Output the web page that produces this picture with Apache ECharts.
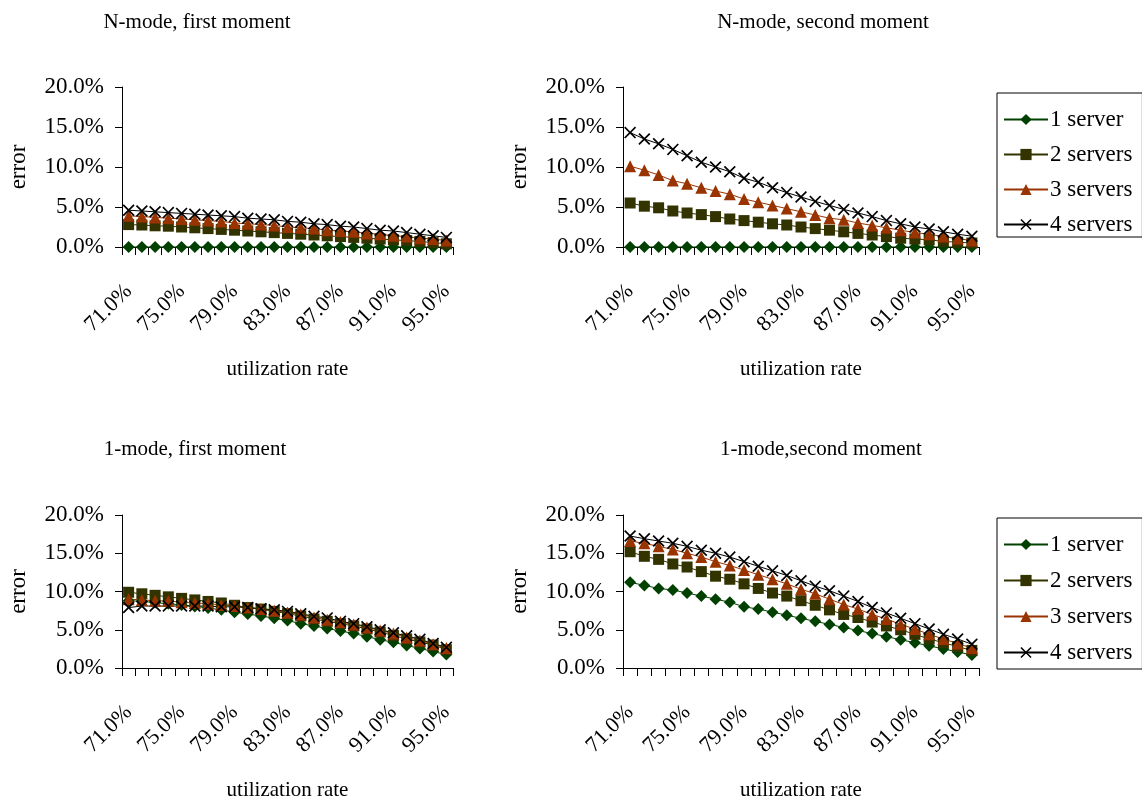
<!DOCTYPE html>
<html>
<head>
<meta charset="utf-8">
<script src="https://cdn.jsdelivr.net/npm/echarts@6/dist/echarts.min.js"></script>
<style>
html,body{margin:0;padding:0;background:#fff;}
#chart{width:1142px;height:802px;}
</style>
</head>
<body>
<div id="chart"></div>
<script>
// ---------- DATA ----------
const categories = ['71.0%','72.0%','73.0%','74.0%','75.0%','76.0%','77.0%','78.0%','79.0%','80.0%','81.0%','82.0%','83.0%','84.0%','85.0%','86.0%','87.0%','88.0%','89.0%','90.0%','91.0%','92.0%','93.0%','94.0%','95.0%'];
const seriesNames = ['1 server','2 servers','3 servers','4 servers'];
const yTicks = [0, 5, 10, 15, 20];
const panelTitles = ['N-mode, first moment','N-mode, second moment','1-mode, first moment','1-mode,second moment'];

// N-mode, first moment (error, %)
const nFirst1 = [0,0,0,0,0,0,0,0,0,0,0,0,0,0,0,0,0,0,0,0,0,0,0,0,0];
const nFirst2 = [2.8,2.75,2.65,2.6,2.5,2.4,2.3,2.2,2.1,2.0,1.9,1.8,1.7,1.6,1.5,1.4,1.3,1.2,1.1,1.0,0.9,0.8,0.7,0.55,0.4];
const nFirst3 = [3.9,3.8,3.7,3.6,3.5,3.4,3.3,3.2,3.0,2.9,2.8,2.7,2.5,2.4,2.3,2.1,2.0,1.9,1.7,1.6,1.4,1.3,1.1,1.0,0.8];
const nFirst4 = [4.6,4.5,4.4,4.3,4.2,4.1,4.0,3.9,3.8,3.6,3.5,3.4,3.2,3.1,2.9,2.8,2.6,2.5,2.3,2.1,2.0,1.8,1.6,1.4,1.2];

// N-mode, second moment
const nSecond1 = [0,0,0,0,0,0,0,0,0,0,0,0,0,0,0,0,0,0,0,0,0,0,0,0,0];
const nSecond2 = [5.5,5.1,4.9,4.5,4.25,4.05,3.8,3.5,3.3,3.1,2.9,2.75,2.5,2.3,2.1,1.9,1.7,1.5,1.3,1.1,1.0,0.9,0.7,0.6,0.5];
const nSecond3 = [10.1,9.6,9.0,8.3,7.9,7.4,7.0,6.6,6.0,5.6,5.2,4.8,4.4,4.0,3.6,3.4,3.0,2.7,2.4,2.1,1.8,1.6,1.3,1.05,0.8];
const nSecond4 = [14.3,13.5,12.9,12.2,11.4,10.6,10.0,9.4,8.6,8.1,7.4,6.8,6.25,5.7,5.2,4.7,4.25,3.8,3.3,2.9,2.5,2.25,1.9,1.6,1.35];

// 1-mode, first moment
const oFirst1 = [8.8,8.7,8.55,8.4,8.25,8.05,7.85,7.6,7.3,7.05,6.8,6.5,6.2,5.8,5.5,5.15,4.85,4.5,4.1,3.7,3.35,2.95,2.55,2.15,1.75];
const oFirst2 = [9.9,9.7,9.5,9.3,9.1,8.9,8.7,8.5,8.2,7.9,7.7,7.4,7.1,6.8,6.4,6.1,5.8,5.5,5.1,4.7,4.25,3.8,3.4,3.0,2.4];
const oFirst3 = [9.0,8.9,8.8,8.75,8.6,8.5,8.4,8.25,8.1,7.9,7.7,7.5,7.25,7.0,6.6,6.3,6.0,5.7,5.3,4.9,4.5,4.0,3.6,3.1,2.6];
const oFirst4 = [7.9,8.1,8.1,8.1,8.1,8.1,8.1,8.0,8.0,7.9,7.75,7.6,7.4,7.1,6.75,6.55,6.1,5.8,5.4,5.0,4.6,4.2,3.75,3.2,2.7];

// 1-mode, second moment
const oSecond1 = [11.2,10.8,10.4,10.2,9.8,9.4,9.0,8.6,8.0,7.7,7.3,6.9,6.5,6.1,5.7,5.3,4.9,4.5,4.1,3.7,3.3,2.9,2.5,2.1,1.7];
const oSecond2 = [15.2,14.6,14.2,13.6,13.2,12.6,12.0,11.6,11.0,10.4,9.8,9.4,8.8,8.2,7.6,7.0,6.6,6.0,5.5,5.0,4.4,3.8,3.3,2.8,2.3];
const oSecond3 = [16.6,16.3,15.9,15.5,15.0,14.5,13.9,13.4,12.8,12.2,11.6,11.0,10.3,9.7,9.0,8.3,7.7,7.0,6.4,5.7,5.1,4.4,3.8,3.2,2.6];
const oSecond4 = [17.25,16.9,16.6,16.3,15.9,15.4,15.0,14.5,13.9,13.3,12.7,12.1,11.4,10.7,10.1,9.4,8.7,7.9,7.2,6.5,5.8,5.1,4.4,3.8,3.1];

const panels = [
  [nFirst1, nFirst2, nFirst3, nFirst4],
  [nSecond1, nSecond2, nSecond3, nSecond4],
  [oFirst1, oFirst2, oFirst3, oFirst4],
  [oSecond1, oSecond2, oSecond3, oSecond4]
];

// ---------- STYLE ----------
const FONT = '"Liberation Serif", "Times New Roman", serif';
const colors = ['#004000', '#333300', '#993300', '#000000'];
const crossPath = 'path://M0,1 L1,0 L5,4 L9,0 L10,1 L6,5 L10,9 L9,10 L5,6 L1,10 L0,9 L4,5 Z';
const symbols = ['diamond', 'rect', 'triangle', crossPath];
const symbolSizes = [12, 11, 12, 12];

const grids = [
  {left: 122, top: 87, width: 331, height: 160},
  {left: 623, top: 87, width: 356, height: 160},
  {left: 122, top: 515, width: 331, height: 159},
  {left: 623, top: 515, width: 356, height: 159}
];
const titlePos = [[192, 7], [818, 7], [190, 434], [816, 434]];

const option = {
  animation: false,
  backgroundColor: '#fff',
  textStyle: {fontFamily: FONT},
  title: panelTitles.map((t, i) => ({
    text: t, left: titlePos[i][0], top: titlePos[i][1], textAlign: 'center',
    textStyle: {fontFamily: FONT, fontSize: 21, fontWeight: 'normal', color: '#000'}
  })),
  legend: [93, 518].map((top, k) => ({
    data: seriesNames, orient: 'vertical', left: 997, top: top,
    itemWidth: 44, itemHeight: 14, itemGap: k === 0 ? 12 : 13,
    padding: k === 0 ? [15, 10, 1, 6] : [15, 10, 5, 6],
    borderColor: '#000', borderWidth: 1, backgroundColor: '#fff',
    textStyle: {fontFamily: FONT, fontSize: 23, color: '#000', padding: [0, 0, 0, -3]}
  })),
  grid: grids.map(g => Object.assign({containLabel: false}, g)),
  xAxis: grids.map((g, i) => ({
    type: 'category', gridIndex: i, data: categories, boundaryGap: true,
    name: 'utilization rate', nameLocation: 'middle', nameGap: 112,
    nameTextStyle: {fontFamily: FONT, fontSize: 21, color: '#000'},
    axisLine: {lineStyle: {color: '#000', width: 1}},
    axisTick: {show: true, interval: 0, length: 8, inside: false, lineStyle: {color: '#000'}},
    axisLabel: {interval: 3, rotate: 45, margin: 41, fontFamily: FONT, fontSize: 22, color: '#000'},
    splitLine: {show: false}
  })),
  yAxis: grids.map((g, i) => ({
    type: 'value', gridIndex: i, min: yTicks[0], max: yTicks[yTicks.length - 1], interval: 5,
    name: 'error', nameLocation: 'middle', nameGap: 92, nameRotate: 90,
    nameTextStyle: {fontFamily: FONT, fontSize: 23, color: '#000'},
    axisLine: {show: true, lineStyle: {color: '#000', width: 1}},
    axisTick: {show: true, length: 7, lineStyle: {color: '#000'}},
    axisLabel: {margin: 18, fontFamily: FONT, fontSize: 23, color: '#000',
      formatter: v => v.toFixed(1) + '%'},
    splitLine: {show: false}
  })),
  series: []
};

panels.forEach((p, gi) => {
  p.forEach((vals, si) => {
    option.series.push({
      type: 'line', name: seriesNames[si], xAxisIndex: gi, yAxisIndex: gi,
      data: vals, symbol: symbols[si], symbolSize: symbolSizes[si],
      showAllSymbol: true,
      lineStyle: {color: colors[si], width: 1},
      itemStyle: {color: colors[si], borderWidth: 0},
      emphasis: {disabled: true}
    });
  });
});

const chart = echarts.init(document.getElementById('chart'), null, {renderer: 'canvas'});
chart.setOption(option);
</script>
</body>
</html>
